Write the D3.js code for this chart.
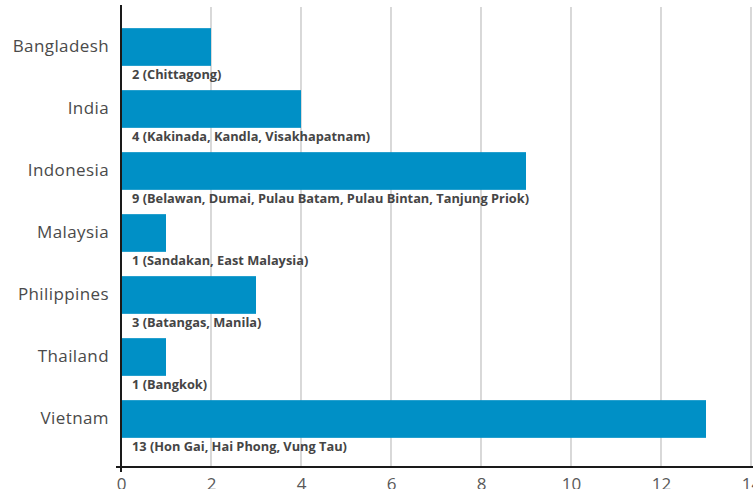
<!DOCTYPE html>
<html>
<head>
<meta charset="utf-8">
<script src="https://cdn.jsdelivr.net/npm/d3@7"></script>
<style>
  html, body { margin: 0; padding: 0; background: #fff; overflow: hidden; }
  svg { display: block; font-family: "Open Sans", sans-serif; }
</style>
</head>
<body>
<svg id="chart" width="753" height="495"></svg>
<script>
// Number of ports per country, with the port names
const countries = ["Bangladesh", "India", "Indonesia", "Malaysia", "Philippines", "Thailand", "Vietnam"];
const portCounts = [2, 4, 9, 1, 3, 1, 13];
const portNames = [
  "Chittagong",
  "Kakinada, Kandla, Visakhapatnam",
  "Belawan, Dumai, Pulau Batam, Pulau Bintan, Tanjung Priok",
  "Sandakan, East Malaysia",
  "Batangas, Manila",
  "Bangkok",
  "Hon Gai, Hai Phong, Vung Tau"
];
const xTicks = [0, 2, 4, 6, 8, 10, 12, 14];

const svg = d3.select("#chart");
const plotLeft = 121, plotRight = 751, plotTop = 7, plotBottom = 467;

const x = d3.scaleLinear().domain([0, 14]).range([plotLeft, plotRight]);
const y = d3.scaleBand()
  .domain(countries)
  .range([16, 450])
  .paddingInner(0.392)
  .paddingOuter(0.196);

// the drawing area ends a little above the bottom edge of the page
svg.append("defs").append("clipPath").attr("id", "frame")
  .append("rect").attr("x", 0).attr("y", 0).attr("width", 753).attr("height", 489);

const root = svg.append("g").attr("clip-path", "url(#frame)");

// vertical gridlines
root.append("g")
  .selectAll("line")
  .data(xTicks.filter(d => d > 0))
  .join("line")
  .attr("x1", d => x(d)).attr("x2", d => x(d))
  .attr("y1", plotTop).attr("y2", plotBottom)
  .attr("stroke", "#c4c4c4")
  .attr("stroke-width", 1.3);

// bars
root.append("g")
  .selectAll("rect")
  .data(countries)
  .join("rect")
  .attr("x", x(0))
  .attr("y", d => y(d))
  .attr("width", (d, i) => x(portCounts[i]) - x(0))
  .attr("height", y.bandwidth())
  .attr("fill", "#0090c6");

// value labels under each bar
root.append("g")
  .selectAll("text")
  .data(countries)
  .join("text")
  .attr("x", x(0) + 11)
  .attr("y", d => y(d) + y.bandwidth() + 13.5)
  .attr("font-size", 12.8)
  .attr("font-weight", 700)
  .attr("fill", "#454545")
  .text((d, i) => `${portCounts[i]} (${portNames[i]})`);

// category axis
const yAxis = root.append("g")
  .attr("transform", `translate(${plotLeft},0)`)
  .call(d3.axisLeft(y).tickSize(0).tickPadding(12));
yAxis.select(".domain").remove();
yAxis.selectAll("text")
  .attr("font-size", 17)
  .attr("letter-spacing", 0.4)
  .attr("font-family", "Open Sans, sans-serif")
  .attr("fill", "#4a4a4a");

// value axis
const xAxis = root.append("g")
  .attr("transform", `translate(0,${plotBottom})`)
  .call(d3.axisBottom(x).tickValues(xTicks).tickSize(0).tickPadding(11));
xAxis.select(".domain").remove();
xAxis.selectAll("text")
  .attr("font-size", 17)
  .attr("font-family", "Open Sans, sans-serif")
  .attr("fill", "#595959");

// axis lines
root.append("line")
  .attr("x1", plotLeft).attr("x2", plotLeft)
  .attr("y1", 5).attr("y2", plotBottom + 5)
  .attr("stroke", "#1a1a1a").attr("stroke-width", 2);
root.append("line")
  .attr("x1", plotLeft - 5).attr("x2", 753)
  .attr("y1", plotBottom).attr("y2", plotBottom)
  .attr("stroke", "#1a1a1a").attr("stroke-width", 2);
</script>
</body>
</html>
